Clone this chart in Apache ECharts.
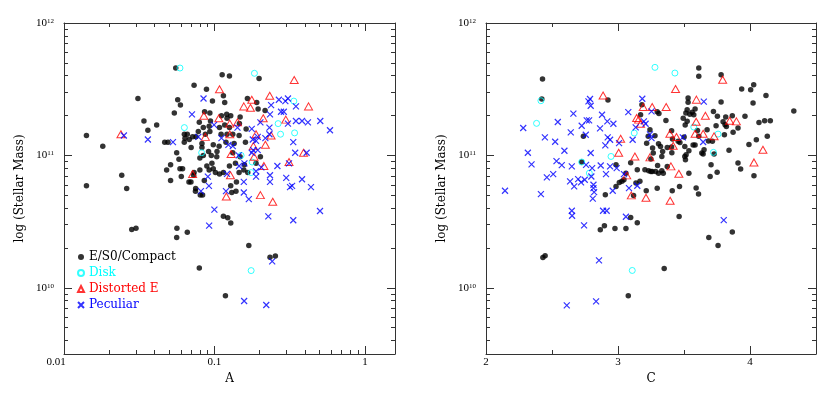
<!DOCTYPE html>
<html><head><meta charset="utf-8">
<script src="https://cdn.jsdelivr.net/npm/echarts@6/dist/echarts.min.js"></script>
<style>html,body{margin:0;padding:0;background:#fff}#c{width:839px;height:418px}</style>
</head><body><div id="c"></div>
<script>
// ---- Data: [A, log10(stellar mass)] (left panel) ----
const leftElliptical = [[0.0553,11.66],[0.1125,11.61],[0.1258,11.60],[0.198,11.58],[0.0732,11.53],[0.0885,11.50],[0.1147,11.45],[0.0310,11.43],[0.1656,11.43],[0.0570,11.42],[0.0970,11.41],[0.1170,11.40],[0.191,11.40],[0.0594,11.38],[0.0541,11.32],[0.195,11.35],[0.217,11.34],[0.086,11.33],[0.0932,11.32],[0.1113,11.30],[0.1206,11.31],[0.1283,11.30],[0.1481,11.29],[0.1212,11.28],[0.034,11.26],[0.0793,11.25],[0.0941,11.26],[0.117,11.23],[0.1258,11.21],[0.0413,11.23],[0.0361,11.19],[0.0843,11.21],[0.0922,11.22],[0.1624,11.20],[0.1465,11.24],[0.0631,11.16],[0.066,11.16],[0.0754,11.14],[0.087,11.16],[0.0932,11.18],[0.1107,11.16],[0.1324,11.16],[0.1458,11.15],[0.0637,11.13],[0.068,11.12],[0.0716,11.14],[0.0467,11.10],[0.0491,11.10],[0.1607,11.10],[0.070,11.06],[0.0826,11.06],[0.0982,11.08],[0.1074,11.07],[0.1193,11.10],[0.1351,11.09],[0.0914,11.03],[0.104,11.03],[0.0843,11.00],[0.0953,11.00],[0.1036,10.99],[0.1324,11.02],[0.1481,10.99],[0.202,10.99],[0.0561,11.02],[0.0581,10.97],[0.080,10.98],[0.0962,10.94],[0.1258,10.92],[0.1379,10.94],[0.1582,10.93],[0.189,10.94],[0.0511,10.93],[0.0481,10.89],[0.059,10.90],[0.0614,10.90],[0.0732,10.87],[0.080,10.89],[0.0922,10.89],[0.1015,10.87],[0.108,10.86],[0.1147,10.87],[0.1458,10.87],[0.1567,10.89],[0.1665,10.87],[0.0511,10.81],[0.0602,10.84],[0.0727,10.85],[0.0677,10.80],[0.0698,10.80],[0.0856,10.81],[0.140,10.80],[0.1283,10.77],[0.075,10.75],[0.0748,10.73],[0.0805,10.70],[0.0834,10.70],[0.1303,10.72],[0.139,10.73],[0.1147,10.54],[0.1225,10.53],[0.1283,10.49],[0.0563,10.45],[0.0561,10.38],[0.066,10.42],[0.0282,10.44],[0.0301,10.45],[0.1692,10.32],[0.234,10.23],[0.254,10.24],[0.0793,10.15],[0.1183,9.94],[0.0141,11.15],[0.0141,10.77],[0.0181,11.07],[0.0242,10.85],[0.0261,10.75],[0.063,11.10],[0.1212,11.16],[0.0781,11.18],[0.108,11.21],[0.0826,11.09],[0.0982,10.90],[0.089,10.92]];
const leftDisk = [[0.059,11.66],[0.1844,11.62],[0.0631,11.21],[0.337,11.41],[0.265,11.24],[0.275,11.16],[0.341,11.17],[0.0822,11.02],[0.1503,11.00],[0.178,10.95],[0.1753,10.87],[0.1753,10.13]];
const leftDistorted = [[0.0239,11.16],[0.0716,10.86],[0.085,11.30],[0.087,11.14],[0.108,11.50],[0.1069,11.28],[0.1264,11.24],[0.1264,11.16],[0.129,11.01],[0.1277,10.85],[0.1199,10.69],[0.1422,11.25],[0.1567,11.37],[0.1735,11.36],[0.177,11.42],[0.1834,10.99],[0.1815,11.07],[0.189,11.16],[0.202,10.70],[0.213,10.92],[0.211,11.28],[0.218,11.08],[0.233,11.45],[0.238,11.15],[0.244,10.65],[0.298,11.27],[0.313,10.95],[0.339,11.57],[0.391,11.02],[0.422,11.37]];
const leftPeculiar = [[0.025,11.15],[0.0361,11.12],[0.053,11.10],[0.0709,11.31],[0.0846,11.43],[0.0781,11.14],[0.0994,11.23],[0.1113,11.13],[0.1238,11.08],[0.1422,11.21],[0.177,11.20],[0.202,11.25],[0.1798,11.12],[0.189,11.11],[0.238,11.38],[0.268,11.42],[0.296,11.41],[0.308,11.43],[0.277,11.33],[0.289,11.33],[0.234,11.31],[0.232,11.21],[0.232,11.16],[0.218,11.13],[0.334,11.10],[0.344,11.02],[0.410,11.02],[0.181,11.04],[0.194,11.04],[0.1458,10.92],[0.1582,10.94],[0.205,10.91],[0.189,10.88],[0.189,10.84],[0.234,10.85],[0.234,10.80],[0.262,10.92],[0.300,10.83],[0.313,10.94],[0.318,10.76],[0.328,10.77],[0.382,10.82],[0.438,10.76],[0.308,11.24],[0.348,11.37],[0.348,11.26],[0.382,11.26],[0.418,11.25],[0.505,11.26],[0.586,11.19],[0.0904,10.84],[0.0919,10.77],[0.0813,10.73],[0.1193,10.73],[0.1212,10.86],[0.1567,10.72],[0.1692,10.67],[0.1567,10.80],[0.0999,10.59],[0.0922,10.47],[0.228,10.54],[0.334,10.51],[0.503,10.58],[0.242,10.20],[0.1575,9.90],[0.221,9.87],[0.177,11.02],[0.145,11.00],[0.1324,11.07],[0.194,11.14]];

// ---- Data: [C, log10(stellar mass)] (right panel) ----
const rightElliptical = [[2.428,11.577],[2.423,11.426],[2.738,11.144],[2.431,10.229],[2.448,10.242],[2.924,11.418],[2.725,10.950],[2.866,10.438],[2.897,10.469],[2.904,10.703],[2.977,10.448],[3.060,10.448],[3.096,10.531],[3.146,10.491],[3.078,9.940],[3.350,10.146],[3.463,10.539],[3.688,10.380],[3.758,10.320],[3.866,10.421],[2.985,10.929],[2.985,10.766],[3.010,10.796],[3.030,10.804],[3.045,10.816],[3.060,10.866],[3.096,10.945],[3.118,10.698],[3.136,10.791],[3.166,10.804],[3.146,10.892],[3.214,10.733],[3.204,10.892],[3.232,10.884],[3.249,10.879],[3.249,10.972],[3.267,11.018],[3.297,10.751],[3.300,10.924],[3.307,10.866],[3.332,10.992],[3.332,10.884],[3.343,10.866],[3.411,10.733],[3.338,11.030],[3.373,11.060],[3.406,11.063],[3.413,11.123],[3.408,11.020],[3.406,11.186],[3.456,11.106],[3.466,10.766],[3.469,11.098],[3.501,11.139],[3.506,11.068],[3.506,10.992],[3.511,10.967],[3.516,11.005],[3.537,10.866],[3.537,11.035],[3.569,11.078],[3.584,11.078],[3.592,10.753],[3.610,10.708],[3.602,11.189],[3.612,11.144],[3.635,11.018],[3.645,11.010],[3.652,11.043],[3.675,11.194],[3.685,11.108],[3.698,10.841],[3.705,10.929],[3.715,11.106],[3.728,11.010],[3.751,10.872],[3.723,11.332],[3.743,11.224],[3.753,11.295],[3.781,11.403],[3.781,11.610],[3.796,11.254],[3.806,11.156],[3.811,11.232],[3.821,11.219],[3.816,11.290],[3.841,11.038],[3.866,11.300],[3.872,11.174],[3.909,10.942],[3.929,10.897],[3.909,11.207],[3.937,11.501],[3.962,11.295],[3.992,11.083],[4.005,11.496],[4.023,11.395],[4.028,11.534],[4.030,10.846],[4.048,11.118],[4.068,11.249],[4.121,11.453],[4.131,11.144],[4.111,11.262],[4.154,11.262],[4.332,11.335],[3.612,11.660],[3.612,11.597],[3.531,11.433],[3.531,11.401],[3.297,11.330],[3.310,11.317],[3.363,11.264],[3.181,11.383],[3.171,11.307],[3.242,11.194],[3.262,11.055],[3.280,11.149],[3.307,11.088],[3.322,11.068],[3.373,10.917],[3.514,11.320],[3.524,11.345],[3.544,11.310],[3.562,11.325],[3.574,11.307],[3.584,11.350],[3.494,11.280],[3.509,11.229],[3.524,11.257],[3.259,10.879],[3.285,10.879],[3.229,11.144],[3.217,11.091]];
const rightDisk = [[3.280,11.665],[3.431,11.622],[2.416,11.413],[2.383,11.242],[3.574,11.214],[3.123,11.169],[3.758,11.161],[2.947,10.992],[2.725,10.950],[3.723,11.023],[2.783,10.866],[3.108,10.131]];
const rightDistorted = [[2.887,11.453],[3.436,11.501],[3.793,11.572],[3.594,11.421],[3.259,11.365],[3.191,11.365],[3.365,11.365],[3.141,11.282],[3.156,11.270],[3.020,11.126],[3.005,11.020],[3.128,10.992],[3.242,10.985],[3.066,10.849],[3.101,10.698],[3.212,10.680],[3.395,10.657],[3.401,10.917],[3.461,10.861],[3.418,11.073],[3.393,11.164],[3.443,11.139],[3.584,11.164],[3.592,11.254],[3.645,11.164],[3.662,11.300],[3.728,11.144],[3.846,11.262],[3.897,11.257],[4.030,10.947],[4.098,11.043],[3.171,11.239]];
const rightPeculiar = [[2.144,10.733],[2.282,11.207],[2.317,11.020],[2.345,10.932],[2.416,10.708],[2.446,11.136],[2.461,10.834],[2.509,10.859],[2.524,11.103],[2.544,11.252],[2.534,10.957],[2.574,10.927],[2.594,11.035],[2.637,10.804],[2.642,11.174],[2.650,10.917],[2.650,10.582],[2.652,10.544],[2.668,10.766],[2.662,11.315],[2.698,10.821],[2.720,10.796],[2.725,11.224],[2.743,10.471],[2.748,10.816],[2.756,11.156],[2.758,10.929],[2.763,11.264],[2.776,11.408],[2.788,11.426],[2.793,11.375],[2.781,11.264],[2.793,11.018],[2.798,10.841],[2.814,10.778],[2.814,10.753],[2.809,10.673],[2.819,10.723],[2.804,10.904],[2.856,10.207],[2.864,11.204],[2.869,10.924],[2.879,11.307],[2.887,10.582],[2.904,11.076],[2.909,10.859],[2.914,10.582],[2.919,11.257],[2.922,11.136],[2.940,11.118],[2.940,10.917],[2.960,10.733],[2.965,11.239],[2.990,10.904],[3.008,11.093],[3.045,10.859],[3.060,10.537],[3.078,11.327],[3.083,10.753],[3.111,11.118],[3.134,11.212],[3.146,10.771],[3.184,11.428],[3.196,11.257],[3.209,11.239],[3.242,11.159],[3.254,11.131],[3.254,11.332],[3.491,11.136],[3.645,11.101],[3.650,11.406],[3.801,10.511],[2.612,9.867],[2.834,9.897]];

// ---- Axes: ranges and tick labels ----
const aRange = [0.01, 1.585];
const aTickValues = [0.01, 0.1, 1];
const aTickLabels = ['0.01', '0.1', '1'];
const cRange = [2, 4.5];
const cTickValues = [2, 3, 4];
const cTickLabels = ['2', '3', '4'];
const cMinorTicks = [2.5, 3.5];
const massRangeLog = [9.5, 12];
const massTickExponents = [10, 11, 12];

const seriesNames = ['E/S0/Compact', 'Disk', 'Distorted E', 'Peculiar'];
const seriesColors = ['#000000', '#00ffff', '#ff0000', '#0000ff'];

const TICK_FONT = 'Liberation Serif';
const TEXT_FONT = 'DejaVu Serif';
const AXIS_COLOR = '#333';

// log-decade minor ticks
function logMinor(lo, hi) {
  const out = [];
  for (let n = Math.floor(lo) - 1; n <= Math.ceil(hi); n++) {
    for (let k = 2; k <= 9; k++) {
      const v = n + Math.log10(k);
      if (v > lo + 1e-9 && v < hi - 1e-9) out.push(v);
    }
  }
  return out;
}
const aLogRange = aRange.map(Math.log10);
const aMajorLog = aTickValues.map(Math.log10);
const aMinorLog = logMinor(aLogRange[0], aLogRange[1]);
const massMinorLog = logMinor(massRangeLog[0], massRangeLog[1]);

const xAxes = [], yAxes = [];
function baseAxis(gridIndex, range, position, ticks, len, showLine) {
  return {
    type: 'value', gridIndex, min: range[0], max: range[1], position,
    axisLine: {show: showLine, onZero: false, lineStyle: {color: AXIS_COLOR, width: 1}},
    axisTick: {show: true, inside: true, length: len, customValues: ticks, lineStyle: {color: AXIS_COLOR, width: 1}},
    axisLabel: {show: false, customValues: ticks},
    splitLine: {show: false}, minorTick: {show: false}, splitArea: {show: false}
  };
}
function nearestLabel(v, vals, labels) {
  let best = 0;
  for (let i = 1; i < vals.length; i++) if (Math.abs(vals[i] - v) < Math.abs(vals[best] - v)) best = i;
  return labels[best];
}
function buildPanel(g, xRange, xMajor, xMinor, xFmt, xName) {
  const xm = baseAxis(g, xRange, 'bottom', xMajor, 8, true);
  xm.axisLabel = {show: true, customValues: xMajor, margin: 3, formatter: xFmt,
    fontFamily: TICK_FONT, fontSize: 11, color: '#000',
    rich: {shift: {fontFamily: TICK_FONT, fontSize: 11, color: '#000', padding: [0, 16, 0, 0]}}};
  xm.name = xName; xm.nameLocation = 'middle'; xm.nameGap = 17;
  xm.nameTextStyle = {fontFamily: TEXT_FONT, fontSize: 12, color: '#000'};
  const ix = xAxes.push(xm) - 1;
  xAxes.push(baseAxis(g, xRange, 'bottom', xMinor, 4, false));
  xAxes.push(baseAxis(g, xRange, 'top', xMajor, 8, true));
  xAxes.push(baseAxis(g, xRange, 'top', xMinor, 4, false));

  const yMajor = massTickExponents.slice();
  const ym = baseAxis(g, massRangeLog, 'left', yMajor, 8, true);
  ym.axisLabel = {show: true, customValues: yMajor, margin: 10,
    formatter: v => '{b|10}{s|' + Math.round(v) + '}',
    rich: {b: {fontFamily: TICK_FONT, fontSize: 11, color: '#000'},
           s: {fontFamily: TICK_FONT, fontSize: 7, color: '#000', verticalAlign: 'top'}}};
  ym.name = 'log (Stellar Mass)'; ym.nameLocation = 'middle'; ym.nameGap = 38;
  ym.nameTextStyle = {fontFamily: TEXT_FONT, fontSize: 12, color: '#000'};
  const iy = yAxes.push(ym) - 1;
  yAxes.push(baseAxis(g, massRangeLog, 'left', massMinorLog, 4, false));
  yAxes.push(baseAxis(g, massRangeLog, 'right', yMajor, 8, true));
  yAxes.push(baseAxis(g, massRangeLog, 'right', massMinorLog, 4, false));
  return [ix, iy];
}

const aFmt = v => {
  const s = nearestLabel(v, aMajorLog, aTickLabels);
  return s === '0.01' ? '{shift|' + s + '}' : s;
};
const cFmt = v => nearestLabel(v, cTickValues, cTickLabels);

const [lx, ly] = buildPanel(0, aLogRange, aMajorLog, aMinorLog, aFmt, 'A');
const [rx, ry] = buildPanel(1, cRange, cTickValues, cMinorTicks, cFmt, 'C');

function styles(i) {
  const c = seriesColors[i];
  if (i === 0) return {symbol: 'circle', symbolSize: 5.5, itemStyle: {color: c}};
  if (i === 1) return {symbol: 'circle', symbolSize: 6, itemStyle: {color: 'rgba(0,0,0,0)', borderColor: c, borderWidth: 1}};
  if (i === 2) return {symbol: 'triangle', symbolSize: [8, 7], itemStyle: {color: 'rgba(0,0,0,0)', borderColor: c, borderWidth: 1}};
  return {symbol: 'path://M0 0L10 10M10 0L0 10', symbolSize: 6, itemStyle: {color: 'rgba(0,0,0,0)', borderColor: c, borderWidth: 1.2}};
}
const series = [];
const leftSets = [leftElliptical, leftDisk, leftDistorted, leftPeculiar];
const rightSets = [rightElliptical, rightDisk, rightDistorted, rightPeculiar];
leftSets.forEach((d, i) => series.push(Object.assign({
  type: 'scatter', name: seriesNames[i], xAxisIndex: lx, yAxisIndex: ly,
  data: d.map(p => [Math.log10(p[0]), p[1]])}, styles(i))));
rightSets.forEach((d, i) => series.push(Object.assign({
  type: 'scatter', name: seriesNames[i], xAxisIndex: rx, yAxisIndex: ry,
  data: d.map(p => [p[0], p[1]])}, styles(i))));

const chart = echarts.init(document.getElementById('c'), null, {renderer: 'canvas'});
chart.setOption({
  animation: false,
  backgroundColor: '#fff',
  grid: [
    {left: 64, top: 23, width: 331, height: 331, containLabel: false},
    {left: 486, top: 23, width: 330, height: 331, containLabel: false}
  ],
  xAxis: xAxes,
  yAxis: yAxes,
  legend: {
    orient: 'vertical', left: 72, top: 246, itemWidth: 6, itemHeight: 6, itemGap: 4,
    selectedMode: false,
    textStyle: {fontFamily: TEXT_FONT, fontSize: 12},
    data: seriesNames.map((n, i) => ({name: n, textStyle: {color: seriesColors[i]}}))
  },
  series
});
</script>
</body></html>
